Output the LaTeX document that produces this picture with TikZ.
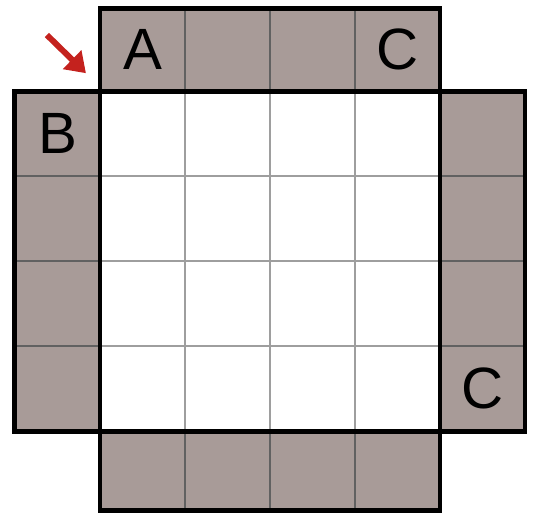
\documentclass[tikz,border=0pt]{standalone}
\usepackage{fontspec}
\setsansfont{Liberation Sans}
\usetikzlibrary{arrows.meta}
\definecolor{cellgray}{RGB}{168,155,152}
\definecolor{arrowred}{RGB}{196,34,30}

\begin{document}
\begin{tikzpicture}[x=2cm, y=2cm,
  shaded/.style={fill=cellgray},
  outline/.style={line width=3.3pt, line join=miter},
  darkdiv/.style={line width=1.3pt, draw=black!62},
  lightdiv/.style={line width=1.3pt, draw=black!38},
  letter/.style={font=\sffamily\fontsize{39}{39}\selectfont, inner sep=0pt},
  pointer/.style={-{Triangle[length=13pt,width=17pt]}, line width=4pt, draw=arrowred, fill=arrowred}
]
\useasboundingbox (-1.176,-0.953) rectangle (5.141,5.071);
% border strips
\fill[shaded] (0,4) rectangle (4,4.976);
\fill[shaded] (-1,0) rectangle (0,4);
\fill[shaded] (4,0) rectangle (5,4);
\fill[shaded] (0,-0.93) rectangle (4,0);
% thin dividers
\foreach \i in {1,2,3} {
  \draw[lightdiv] (\i,0) -- (\i,4);
  \draw[lightdiv] (0,\i) -- (4,\i);
  \draw[darkdiv] (\i,4) -- (\i,4.976);
  \draw[darkdiv] (\i,-0.93) -- (\i,0);
  \draw[darkdiv] (-1,\i) -- (0,\i);
  \draw[darkdiv] (4,\i) -- (5,\i);
}
% thick outlines
\draw[outline] (0,0) rectangle (4,4);
\draw[outline] (0,4) rectangle (4,4.976);
\draw[outline] (-1,0) rectangle (0,4);
\draw[outline] (4,0) rectangle (5,4);
\draw[outline] (0,-0.93) rectangle (4,0);
% letters
\node[letter] (topA) at (0.5,4.49) {A};
\node[letter] (topC) at (3.5,4.49) {C};
\node[letter] (leftB) at (-0.5,3.5) {B};
\node[letter] (rightC) at (4.5,0.5) {C};
% arrow to the corner
\coordinate (tail) at (-0.624,4.659);
\coordinate (corner) at (-0.165,4.21);
\draw[pointer] (tail) -- (corner);
\end{tikzpicture}
\end{document}
